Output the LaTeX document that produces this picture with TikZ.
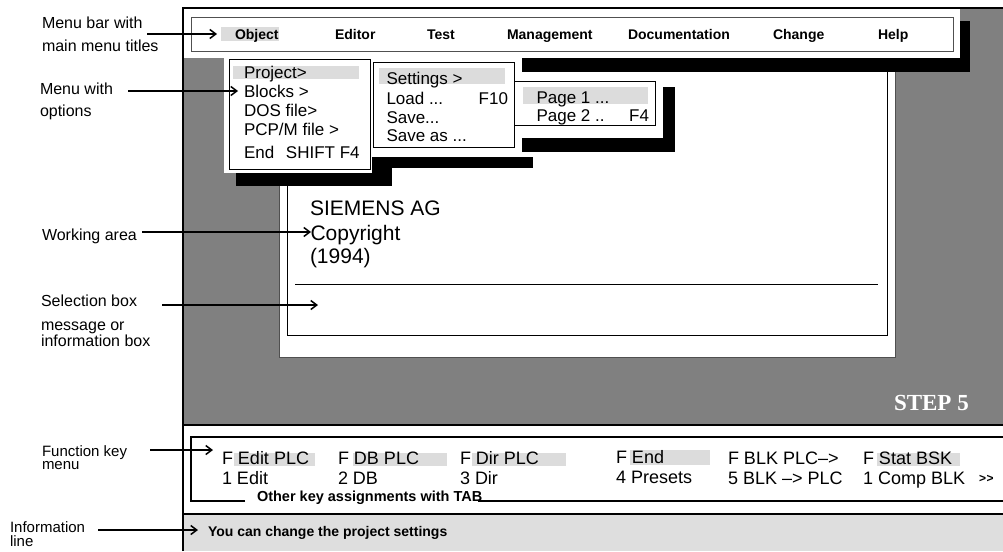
\documentclass[tikz,border=0pt]{standalone}
\usepackage{fontspec}
\setmainfont{Liberation Sans}
\newfontfamily\stepfont{Liberation Serif}
\usetikzlibrary{arrows.meta}
\definecolor{scrgray}{HTML}{808080}
\definecolor{hlgray}{HTML}{DCDCDC}
\definecolor{infogray}{HTML}{DEDEDE}
\definecolor{edgegray}{HTML}{505050}
\begin{document}
\begin{tikzpicture}[x=1pt,y=-1pt,
  txt/.style={anchor=base west, inner sep=0pt, outer sep=0pt},
  txtr/.style={anchor=base east, inner sep=0pt, outer sep=0pt},
  lbl/.style={txt, font=\fontsize{16}{19}\selectfont},
  lbls/.style={txt, font=\fontsize{15}{17}\selectfont},
  bartitle/.style={txt, font=\bfseries\fontsize{14}{16}\selectfont},
  mitem/.style={txt, font=\fontsize{17}{20}\selectfont},
  mitemr/.style={txtr, font=\fontsize{17}{20}\selectfont},
  work/.style={txt, font=\fontsize{21}{24}\selectfont},
  fkey/.style={txt, font=\fontsize{18}{20}\selectfont},
  boldnote/.style={txt, font=\bfseries\fontsize{14.5}{17}\selectfont},
  callout/.style={line width=1.5pt, -{Straight Barb[length=6pt,width=9pt,line width=1.5pt]}},
  hl/.style={fill=hlgray},
  panel/.style={fill=white},
  frame/.style={line width=2pt}
]
\useasboundingbox (0,0) rectangle (1003,551);
\fill[white] (0,0) rectangle (1003,551);

% ---------- screen background ----------
\fill[scrgray] (183,8) rectangle (1003,424);

% ---------- working window ----------
\filldraw[fill=white, draw=edgegray, line width=1pt] (279,71) rectangle (895,357);
\draw[line width=1pt] (287,71) rectangle (887,335);
\draw[line width=0.9pt] (295,284) -- (878,284);

% ---------- drop shadows ----------
\fill (240,58) rectangle (970,71.5);
\fill (960,21) rectangle (970,71.5);
\fill (236,173) rectangle (392,186);
\fill (372,157) rectangle (392,186);
\fill (372,157) rectangle (533,168);
\fill (522,138) rectangle (675,152);
\fill (663,87) rectangle (675,152);

% ---------- menu bar ----------
\fill[panel] (183,8) rectangle (960,58);
\draw[edgegray, line width=1pt] (191,18) rectangle (953,52);
\fill[hl] (221,27) rectangle (279,41);
\node[bartitle] (mObject) at (235,40) {Object};
\node[bartitle] (mEditor) at (335,40) {Editor};
\node[bartitle] (mTest) at (427,40) {Test};
\node[bartitle] (mManage) at (507,40) {Management};
\node[bartitle] (mDoc) at (628,40) {Documentation};
\node[bartitle] (mChange) at (773,40) {Change};
\node[bartitle] (mHelp) at (878,40) {Help};

% ---------- Object pull-down ----------
\fill[panel] (224,58) rectangle (372,173);
\draw[line width=0.9pt] (229,59) rectangle (370,169);
\fill[hl] (233,66) rectangle (359,79);
\node[mitem] (oProject) at (244,78.3) {Project>};
\node[mitem] (oBlocks) at (244,97.3) {Blocks >};
\node[mitem] (oDos) at (244,116.7) {DOS file>};
\node[mitem] (oPcp) at (244,135.7) {PCP/M file >};
\node[mitem] (oEnd) at (244,158.3) {End\hspace{7pt} SHIFT F4};

% ---------- Project sub-menu ----------
\fill[panel] (372,58) rectangle (522,157);
\draw[line width=0.9pt] (373,62) rectangle (514,147);
\fill[hl] (379,68) rectangle (505,84);
\node[mitem] (sSettings) at (386.5,84.3) {Settings >};
\node[mitem] (sLoad) at (386.5,104) {Load ...};
\node[mitemr] (sLoadKey) at (508,104) {F10};
\node[mitem] (sSave) at (386.5,123.3) {Save...};
\node[mitem] (sSaveAs) at (386.5,141.7) {Save as ...};

% ---------- Settings sub-menu ----------
\fill[panel] (515,75) rectangle (663,138);
\draw[line width=0.9pt] (514,81) -- (655,81) -- (655,125) -- (514,125);
\fill[hl] (523,87) rectangle (648,104);
\node[mitem] (pOne) at (536.5,103) {Page 1 ...};
\node[mitem] (pTwo) at (536.5,121.7) {Page 2 ..};
\node[mitemr] (pTwoKey) at (649,121.7) {F4};

% ---------- working area text ----------
\node[work] (wSiemens) at (310,215) {SIEMENS AG};
\node[work] (wCopy) at (310.5,240) {Copyright};
\node[work] (wYear) at (310,263) {(1994)};

\node[txt, font=\stepfont\bfseries\fontsize{23}{26}\selectfont, text=white] (step) at (894,410) {STEP 5};

% ---------- screen frame ----------
\draw[frame] (183,551) -- (183,8) -- (1003,8);
\draw[frame] (183,425) -- (1003,425);

% ---------- function key menu ----------
\draw[frame] (245,501) -- (191,501) -- (191,437) -- (1003,437);
\draw[frame] (478,501) -- (1003,501);
\fill[hl] (234,453) rectangle (315,466);
\fill[hl] (353,453) rectangle (447,466);
\fill[hl] (472,453) rectangle (566,466);
\fill[hl] (630,450) rectangle (710,465);
\fill[hl] (877,453) rectangle (960,466);
\node[fkey] (f1a) at (222,464) {F Edit PLC};
\node[fkey] (f1b) at (222,484) {1 Edit};
\node[fkey] (f2a) at (338,464) {F DB PLC};
\node[fkey] (f2b) at (338,484) {2 DB};
\node[fkey] (f3a) at (460,464) {F Dir PLC};
\node[fkey] (f3b) at (460,484) {3 Dir};
\node[fkey] (f4a) at (616,463) {F End};
\node[fkey] (f4b) at (616,483.3) {4 Presets};
\node[fkey] (f5a) at (728,464) {F BLK PLC–>};
\node[fkey] (f5b) at (728,484) {5 BLK –> PLC};
\node[fkey] (f6a) at (863,464) {F Stat BSK};
\node[fkey] (f6b) at (863,484) {1 Comp BLK};
\node[txt, font=\bfseries\fontsize{12}{14}\selectfont] (more) at (979,482.7) {>\kern0.5pt>};
\node[boldnote] (tabnote) at (257,501) {Other key assignments with TAB};

% ---------- information line ----------
\fill[infogray] (184,515) rectangle (1003,551);
\draw[frame] (183,514) -- (1003,514);
\node[txt, font=\bfseries\fontsize{14}{16}\selectfont] (info) at (208,536.7) {You can change the project settings};

% ---------- callout labels ----------
\node[lbl] (lBar1) at (42,28.5) {Menu bar with};
\node[lbl] (lBar2) at (42,51.7) {main menu titles};
\node[lbl] (lMenu1) at (40,94) {Menu with};
\node[lbl] (lMenu2) at (40,116.7) {options};
\node[lbl] (lWork) at (42,240) {Working area};
\node[lbl] (lSel1) at (41,306.7) {Selection box};
\node[lbl] (lSel2) at (41,330) {message or};
\node[lbl] (lSel3) at (41,346.7) {information box};
\node[lbls] (lKey1) at (42,456) {Function key};
\node[lbls] (lKey2) at (42,469.5) {menu};
\node[lbls] (lInfo1) at (10,532.5) {Information};
\node[lbls] (lInfo2) at (10,546.5) {line};

% ---------- callout arrows ----------
\coordinate (cBarS) at (147,34);   \coordinate (cBarE) at (217,34);
\coordinate (cMenuS) at (128,91);  \coordinate (cMenuE) at (238,91);
\coordinate (cWorkS) at (142,232); \coordinate (cWorkE) at (311,232);
\coordinate (cSelS) at (162,305);  \coordinate (cSelE) at (318,305);
\coordinate (cKeyS) at (150,450);  \coordinate (cKeyE) at (213,450);
\coordinate (cInfoS) at (98,530);  \coordinate (cInfoE) at (198,530);
\draw[callout] (cBarS) -- (cBarE);
\draw[callout] (cMenuS) -- (cMenuE);
\draw[callout] (cWorkS) -- (cWorkE);
\draw[callout] (cSelS) -- (cSelE);
\draw[callout] (cKeyS) -- (cKeyE);
\draw[callout] (cInfoS) -- (cInfoE);
\end{tikzpicture}
\end{document}
